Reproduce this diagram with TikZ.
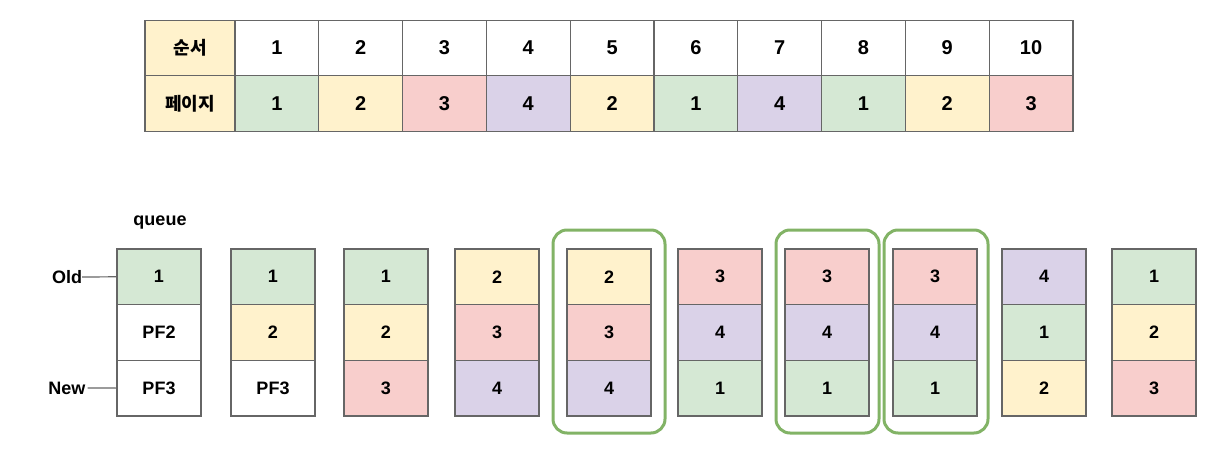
\documentclass[tikz,border=0pt]{standalone}
\usepackage{fontspec}
\setmainfont{Liberation Sans}
\newfontfamily\krfont{Noto Sans CJK KR}
\usepackage{tikz}
\usetikzlibrary{positioning}
\definecolor{cellborder}{HTML}{666666}
\definecolor{hitgreen}{HTML}{82B366}
\definecolor{headcolor}{HTML}{FFF2CC}
\definecolor{pg1}{HTML}{D5E8D4}
\definecolor{pg2}{HTML}{FFF2CC}
\definecolor{pg3}{HTML}{F8CECC}
\definecolor{pg4}{HTML}{DAD2E8}
\definecolor{pgPF2}{HTML}{FFFFFF}
\definecolor{pgPF3}{HTML}{FFFFFF}
\tikzset{
    cell/.style={rectangle, draw=cellborder, line width=1.2pt, inner sep=0pt, minimum height=55.5pt},
    table cell/.style={cell, minimum width=83.8pt, font=\bfseries\fontsize{20}{20}\selectfont},
    head cell/.style={cell, minimum width=90pt, fill=headcolor, font=\krfont\bfseries\fontsize{18}{18}\selectfont},
    queue cell/.style={cell, minimum width=84pt, minimum height=55.7pt, font=\bfseries\fontsize{18}{18}\selectfont},
    hit box/.style={rectangle, draw=hitgreen, line width=3pt, rounded corners=14pt, inner sep=0pt},
    side label/.style={font=\bfseries\fontsize{18}{18}\selectfont, inner sep=0pt},
    marker/.style={cellborder, line width=1.2pt}
}

\begin{document}
\begin{tikzpicture}[x=1pt, y=-1pt]
    \useasboundingbox (0,0) rectangle (1221,468);

    % Reference table - order and page
    \node[head cell] (H-1) at (190,48) {순서};
    \node[head cell] (H-2) at (190,103.5) {페이지};
    \foreach \p [count=\i] in {1,2,3,4,2,1,4,1,2,3} {
        \node[table cell] (T-\i) at ({235+83.8*(\i-0.5)},48) {\i};
        \node[table cell, fill=pg\p] (P-\i) at ({235+83.8*(\i-0.5)},103.5) {\p};
    }

    % Queue states - one column per reference
    \foreach \x/\a/\b/\c [count=\i] in {117/1/PF2/PF3, 231/1/2/PF3, 344/1/2/3, 455/2/3/4, 567/2/3/4,
                                         678/3/4/1, 785/3/4/1, 893/3/4/1, 1002/4/1/2, 1112/1/2/3} {
        \node[queue cell, fill=pg\a] (Q\i-1) at (\x+42,276.8) {\a};
        \node[queue cell, fill=pg\b] (Q\i-2) at (\x+42,332.4) {\b};
        \node[queue cell, fill=pg\c] (Q\i-3) at (\x+42,388.1) {\c};
    }

    % Page hits - green frames
    \node[hit box, minimum width=112pt, minimum height=203pt] (hit-5) at (609,331.5) {};
    \node[hit box, minimum width=103pt, minimum height=203pt] (hit-7) at (827.5,331.5) {};
    \node[hit box, minimum width=104pt, minimum height=203pt] (hit-8) at (936,331.5) {};

    % Labels
    \node[side label] (queue) at (160,223) {queue};
    \node[side label] (old) at (67,277) {Old};
    \node[side label] (new) at (67,388) {New};
    \draw[marker] (old.east) -- (Q1-1.west);
    \draw[marker] (new.east) ++(2,0) -- (Q1-3.west);
\end{tikzpicture}
\end{document}
